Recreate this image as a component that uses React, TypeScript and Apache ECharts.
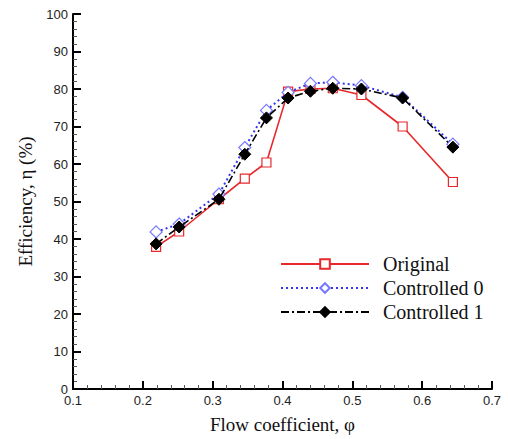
import React, { useEffect, useRef } from "react";
import * as echarts from "echarts";

const flowCoeff = [0.219, 0.252, 0.309, 0.346, 0.377, 0.408, 0.44, 0.472, 0.513, 0.572, 0.644];
const original = [37.9, 42.0, 50.6, 56.1, 60.4, 79.3, 80.0, 80.2, 78.4, 70.0, 55.2];
const controlled0 = [41.9, 44.0, 52.0, 64.4, 74.3, 79.1, 81.5, 81.8, 80.9, 77.8, 65.3];
const controlled1 = [38.7, 43.2, 50.6, 62.6, 72.3, 77.6, 79.4, 80.2, 80.0, 77.6, 64.5];

const seriesNames = ["Original", "Controlled 0", "Controlled 1"];

function pairs(ys: number[]) {
  return flowCoeff.map((x, i) => [x, ys[i]]);
}

export default function App() {
  const ref = useRef<HTMLDivElement>(null);
  useEffect(() => {
    if (!ref.current) return;
    const chart = echarts.init(ref.current, null, { renderer: "svg" });
    const serif = "Liberation Serif";
    const sans = "Liberation Sans";
    chart.setOption({
      animation: false,
      backgroundColor: "#fff",
      grid: { left: 73, right: 16, top: 14, bottom: 45 },
      legend: {
        orient: "vertical",
        left: 280,
        top: 254,
        padding: 0,
        itemWidth: 88,
        itemHeight: 12,
        itemGap: 4,
        textStyle: { fontFamily: serif, fontSize: 20, color: "#111", padding: [0, 0, 0, 9] },
        data: seriesNames,
      },
      xAxis: {
        type: "value",
        min: 0.1,
        max: 0.7,
        interval: 0.1,
        name: "Flow coefficient, φ",
        nameLocation: "middle",
        nameGap: 26,
        nameTextStyle: { fontFamily: serif, fontSize: 19, color: "#111" },
        axisLine: { show: true, lineStyle: { color: "#000", width: 2 } },
        axisTick: { show: true, inside: true, length: 8, lineStyle: { color: "#000", width: 2 } },
        minorTick: { show: true, splitNumber: 5, length: 4, lineStyle: { color: "#555", width: 1 } },
        splitLine: { show: false },
        axisLabel: {
          margin: 5,
          fontFamily: sans,
          fontSize: 13,
          color: "#222",
          formatter: (v: number) => v.toFixed(1),
        },
      },
      yAxis: {
        type: "value",
        min: 0,
        max: 100,
        interval: 10,
        name: "Efficiency, η (%)",
        nameLocation: "middle",
        nameGap: 36,
        nameTextStyle: { fontFamily: serif, fontSize: 19, color: "#111" },
        axisLine: { show: true, lineStyle: { color: "#000", width: 2 } },
        axisTick: { show: true, inside: true, length: 8, lineStyle: { color: "#000", width: 2 } },
        minorTick: { show: true, splitNumber: 5, length: 4, lineStyle: { color: "#555", width: 1 } },
        splitLine: { show: false },
        axisLabel: { margin: 5, fontFamily: sans, fontSize: 13, color: "#222" },
      },
      series: [
        {
          name: seriesNames[0],
          type: "line",
          data: pairs(original),
          symbol: "rect",
          symbolSize: 9,
          showAllSymbol: true,
          lineStyle: { color: "#e8282c", width: 1.6, type: "solid" },
          itemStyle: { color: "#fff", borderColor: "#e8282c", borderWidth: 1.2 },
          z: 2,
        },
        {
          name: seriesNames[1],
          type: "line",
          data: pairs(controlled0),
          symbol: "diamond",
          symbolSize: 12,
          showAllSymbol: true,
          lineStyle: { color: "#3535f0", width: 2, type: [2, 3] },
          itemStyle: { color: "#fff", borderColor: "#7777ff", borderWidth: 1.2 },
          z: 3,
        },
        {
          name: seriesNames[2],
          type: "line",
          data: pairs(controlled1),
          symbol: "diamond",
          symbolSize: 12,
          showAllSymbol: true,
          lineStyle: { color: "#000", width: 1.6, type: [8, 3, 2, 3] },
          itemStyle: { color: "#000", borderColor: "#000", borderWidth: 1 },
          z: 4,
        },
      ],
    });
    return () => chart.dispose();
  }, []);
  return (
    <div
      ref={ref}
      style={{ position: "absolute", left: 0, top: 0, width: 508, height: 439 }}
    />
  );
}
